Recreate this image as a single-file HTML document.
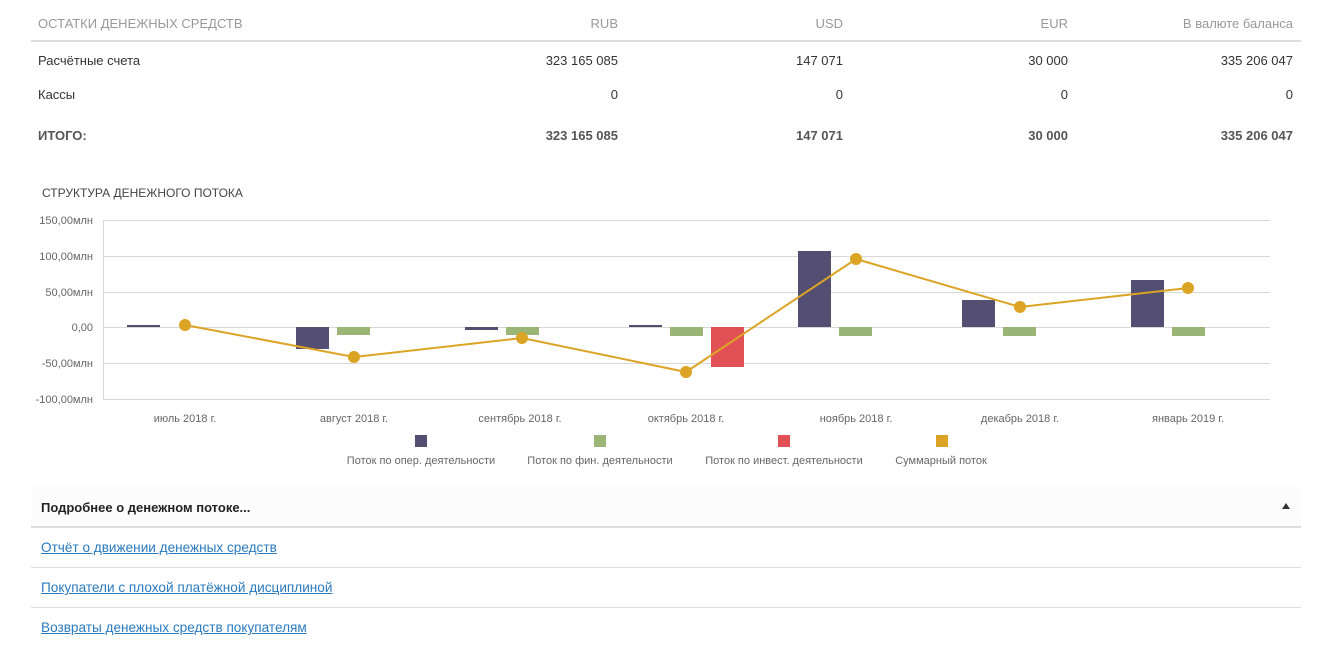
<!DOCTYPE html>
<html><head><meta charset="utf-8"><style>
body{margin:0;width:1331px;height:652px;background:#fff;font-family:"Liberation Sans",sans-serif;font-size:13px;color:#333;position:relative;overflow:hidden}
.a{position:absolute;white-space:nowrap}
.r{text-align:right}
.h{color:#999}
.b{font-weight:bold;color:#555}
.lnk{color:#2a7ac0;text-decoration:underline;font-size:13.6px}
</style></head><body>
<div class="a h" style="left:38px;top:16px">ОСТАТКИ ДЕНЕЖНЫХ СРЕДСТВ</div>
<div class="a h r" style="right:713px;top:16px">RUB</div>
<div class="a h r" style="right:488px;top:16px">USD</div>
<div class="a h r" style="right:263px;top:16px">EUR</div>
<div class="a h r" style="right:38px;top:16px">В валюте баланса</div>
<div class="a" style="left:31px;width:1270px;top:40px;height:2px;background:#ddd"></div>

<div class="a" style="left:38px;top:53px">Расчётные счета</div>
<div class="a r" style="right:713px;top:53px">323 165 085</div>
<div class="a r" style="right:488px;top:53px">147 071</div>
<div class="a r" style="right:263px;top:53px">30 000</div>
<div class="a r" style="right:38px;top:53px">335 206 047</div>

<div class="a" style="left:38px;top:87px">Кассы</div>
<div class="a r" style="right:713px;top:87px">0</div>
<div class="a r" style="right:488px;top:87px">0</div>
<div class="a r" style="right:263px;top:87px">0</div>
<div class="a r" style="right:38px;top:87px">0</div>

<div class="a b" style="left:38px;top:128px">ИТОГО:</div>
<div class="a b r" style="right:713px;top:128px">323 165 085</div>
<div class="a b r" style="right:488px;top:128px">147 071</div>
<div class="a b r" style="right:263px;top:128px">30 000</div>
<div class="a b r" style="right:38px;top:128px">335 206 047</div>

<div class="a" style="left:42px;top:186px;font-size:12px;color:#444">СТРУКТУРА ДЕНЕЖНОГО ПОТОКА</div>

<svg class="a" style="left:0;top:0" width="1331" height="480" font-family="Liberation Sans, sans-serif" font-size="11">
<g stroke="#d8d8d8" stroke-width="1">
<line x1="103" x2="1270" y1="220.5" y2="220.5"/><line x1="103" x2="1270" y1="256.5" y2="256.5"/>
<line x1="103" x2="1270" y1="292.5" y2="292.5"/><line x1="103" x2="1270" y1="327.5" y2="327.5"/>
<line x1="103" x2="1270" y1="363.5" y2="363.5"/><line x1="103" x2="1270" y1="399.5" y2="399.5"/>
<line x1="103.5" x2="103.5" y1="220" y2="399"/>
</g>
<g fill="#666" text-anchor="end">
<text x="93" y="224">150,00млн</text><text x="93" y="260">100,00млн</text><text x="93" y="296">50,00млн</text>
<text x="93" y="331">0,00</text><text x="93" y="367">-50,00млн</text><text x="93" y="403">-100,00млн</text>
</g>
<g fill="#666" text-anchor="middle">
<text x="185" y="422">июль 2018 г.</text><text x="354" y="422">август 2018 г.</text><text x="520" y="422">сентябрь 2018 г.</text>
<text x="686" y="422">октябрь 2018 г.</text><text x="856" y="422">ноябрь 2018 г.</text><text x="1020" y="422">декабрь 2018 г.</text><text x="1188" y="422">январь 2019 г.</text>
</g>
<g fill="#544e72">
<rect x="127" y="325" width="33" height="2"/><rect x="296" y="327" width="33" height="22"/>
<rect x="465" y="327" width="33" height="3"/><rect x="629" y="325" width="33" height="2"/>
<rect x="798" y="251" width="33" height="76"/><rect x="962" y="300" width="33" height="27"/>
<rect x="1131" y="280" width="33" height="47"/>
</g>
<g fill="#9ab575">
<rect x="337" y="327" width="33" height="8"/><rect x="506" y="327" width="33" height="8"/>
<rect x="670" y="327" width="33" height="9"/><rect x="839" y="327" width="33" height="9"/>
<rect x="1003" y="327" width="33" height="9"/><rect x="1172" y="327" width="33" height="9"/>
</g>
<rect x="711" y="327" width="33" height="40" fill="#e15054"/>
<polyline fill="none" stroke="#dca425" stroke-width="2" points="185,325 354,357 522,338 686,372 856,259 1020,307 1188,288"/>
<g fill="#dca425">
<circle cx="185" cy="325" r="6"/><circle cx="354" cy="357" r="6"/><circle cx="522" cy="338" r="6"/><circle cx="686" cy="372" r="6"/>
<circle cx="856" cy="259" r="6"/><circle cx="1020" cy="307" r="6"/><circle cx="1188" cy="288" r="6"/>
</g>
<rect x="415" y="435" width="12" height="12" fill="#544e72"/>
<rect x="594" y="435" width="12" height="12" fill="#9ab575"/>
<rect x="778" y="435" width="12" height="12" fill="#e15054"/>
<rect x="936" y="435" width="12" height="12" fill="#dca425"/>
<g fill="#666" text-anchor="middle">
<text x="421" y="464">Поток по опер. деятельности</text>
<text x="600" y="464">Поток по фин. деятельности</text>
<text x="784" y="464">Поток по инвест. деятельности</text>
<text x="941" y="464">Суммарный поток</text>
</g>
</svg>

<div class="a" style="left:31px;top:486px;width:1270px;height:40px;background:#fcfcfc"></div>
<div class="a" style="left:31px;top:526px;width:1270px;height:2px;background:#ddd"></div>
<div class="a" style="left:41px;top:500px;font-weight:bold;color:#222">Подробнее о денежном потоке...</div>
<div class="a" style="left:1282px;top:503px;width:0;height:0;border-left:4px solid transparent;border-right:4px solid transparent;border-bottom:6px solid #333"></div>
<div class="a lnk" style="left:41px;top:540px">Отчёт о движении денежных средств</div>
<div class="a" style="left:31px;top:567px;width:1270px;height:1px;background:#ddd"></div>
<div class="a lnk" style="left:41px;top:580px">Покупатели с плохой платёжной дисциплиной</div>
<div class="a" style="left:31px;top:607px;width:1270px;height:1px;background:#ddd"></div>
<div class="a lnk" style="left:41px;top:620px">Возвраты денежных средств покупателям</div>
</body></html>
